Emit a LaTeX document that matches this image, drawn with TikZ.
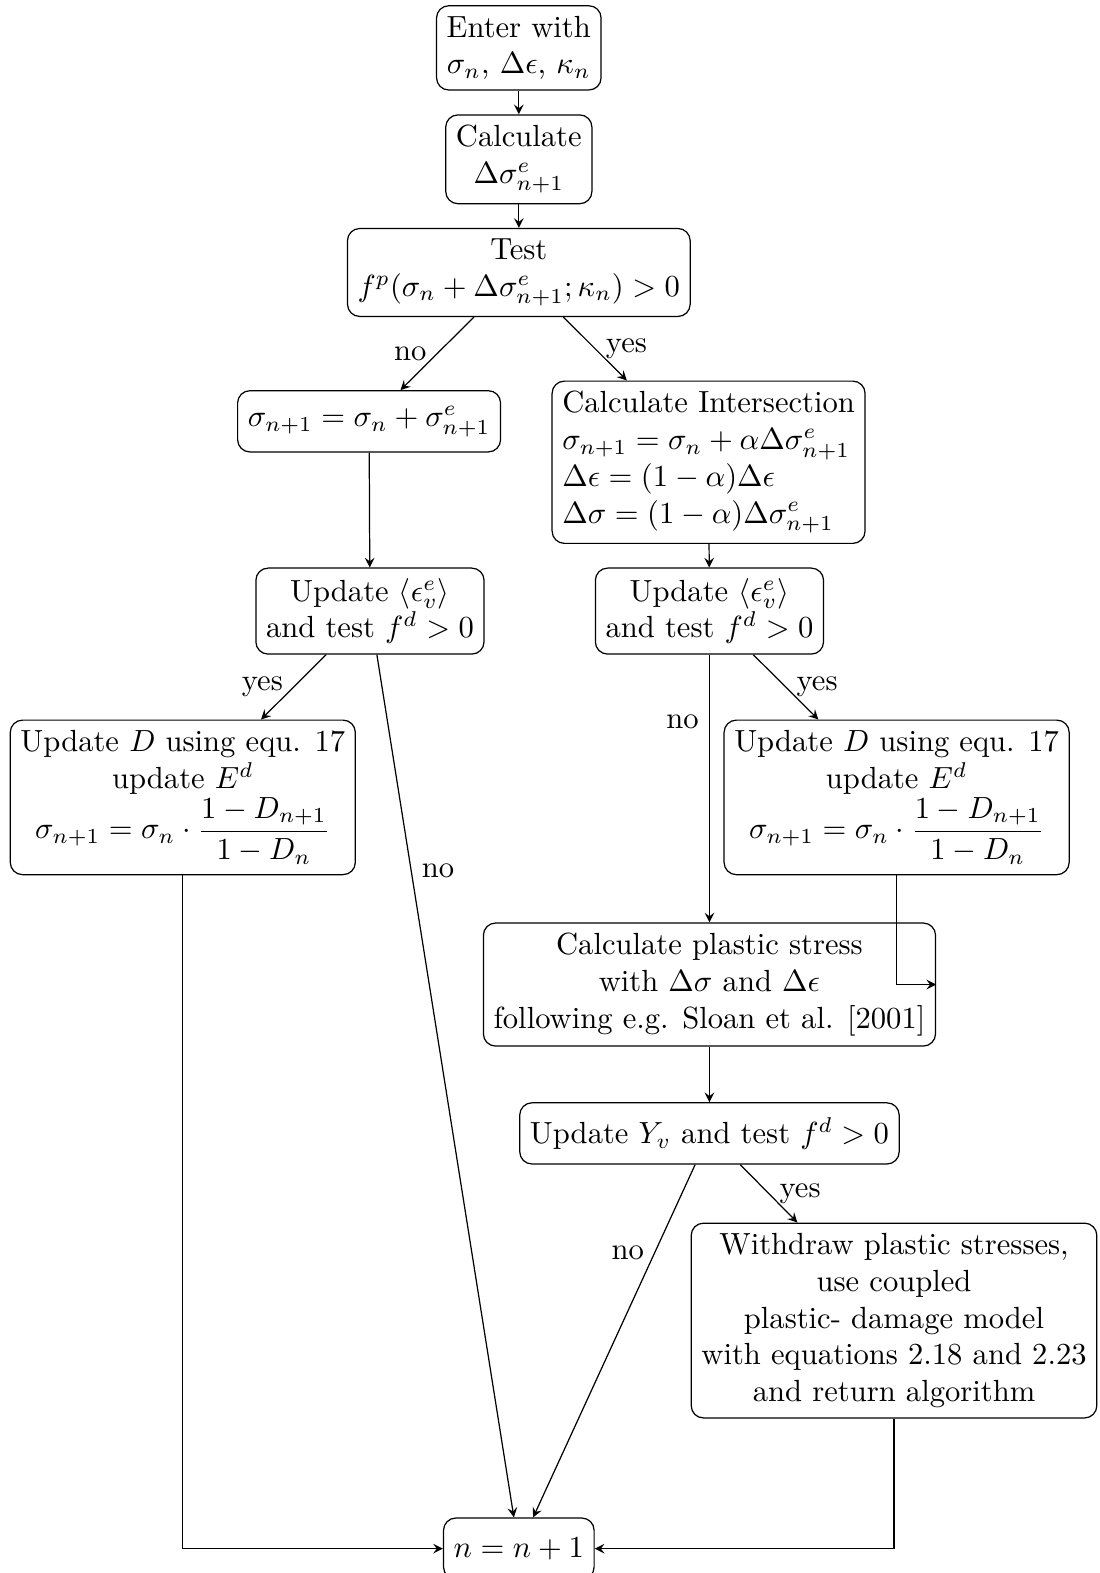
\documentclass[tikz,border=0pt]{standalone}
\usepackage{amsmath,amssymb}
\usepackage{tikz}
\usetikzlibrary{arrows.meta,positioning}

\begin{document}
\begin{tikzpicture}[
  box/.style={draw, rounded corners, align=center, minimum height=2em},
  lbox/.style={draw, rounded corners, align=left, minimum height=2em},
  >=stealth
]
\useasboundingbox (0,0) rectangle (12.63,-18.07);

% start and elastic trial
\node[box] (enter) at (5.96,-0.55) {Enter with\\$\sigma_n$, $\Delta\epsilon$, $\kappa_n$};
\node[box] (trial) at (5.96,-1.83) {Calculate\\$\Delta\sigma^e_{n+1}$};
\node[box] (test)  at (5.96,-3.13) {Test\\$f^p(\sigma_n+\Delta\sigma^e_{n+1};\kappa_n)>0$};

% elastic branch
\node[box] (elastic) at (4.24,-4.84) {$\sigma_{n+1}=\sigma_n+\sigma^e_{n+1}$};
\node[box] (updl)    at (4.25,-7.02) {Update $\langle\epsilon^e_v\rangle$\\and test $f^d>0$};
\node[box] (dmgl)    at (2.10,-9.16) {Update $D$ using equ. 17\\update $E^d$\\$\sigma_{n+1}=\sigma_n\cdot\dfrac{1-D_{n+1}}{1-D_n}$};

% plastic branch
\node[lbox] (inter) at (8.14,-5.31) {Calculate Intersection\\$\sigma_{n+1}=\sigma_n+\alpha\Delta\sigma^e_{n+1}$\\$\Delta\epsilon=(1-\alpha)\Delta\epsilon$\\$\Delta\sigma=(1-\alpha)\Delta\sigma^e_{n+1}$};
\node[box] (updr)    at (8.15,-7.02) {Update $\langle\epsilon^e_v\rangle$\\and test $f^d>0$};
\node[box] (dmgr)    at (10.30,-9.16) {Update $D$ using equ. 17\\update $E^d$\\$\sigma_{n+1}=\sigma_n\cdot\dfrac{1-D_{n+1}}{1-D_n}$};
\node[box] (plastic) at (8.15,-11.31) {Calculate plastic stress\\with $\Delta\sigma$ and $\Delta\epsilon$\\following e.g. Sloan et al. [2001]};
\node[box] (updy)    at (8.15,-13.02) {Update $Y_v$ and test $f^d>0$};
\node[box] (withdraw) at (10.27,-15.17) {Withdraw plastic stresses,\\use coupled\\plastic- damage model\\with equations 2.18 and 2.23\\and return algorithm};

% next step
\node[box] (next) at (5.96,-17.79) {$n=n+1$};

\draw[->] (enter) -- (trial);
\draw[->] (trial) -- (test);
\draw[->] (test) -- (elastic) node[midway,left]{no};
\draw[->] (test) -- (inter) node[midway,right]{yes};
\draw[->] (elastic) -- (updl);
\draw[->] (inter) -- (updr);
\draw[->] (updl) -- (dmgl) node[midway,left]{yes};
\draw[->] (updl) -- (next) node[near start,right]{no};
\draw[->] (updr) -- (plastic) node[near start,left]{no};
\draw[->] (updr) -- (dmgr) node[midway,right]{yes};
\draw[->] (dmgr) |- (plastic);
\draw[->] (plastic) -- (updy);
\draw[->] (updy) -- (next) node[near start,left]{no};
\draw[->] (updy) -- (withdraw) node[midway,right]{yes};
\draw[->] (dmgl) |- (next);
\draw[->] (withdraw) |- (next);
\end{tikzpicture}
\end{document}
